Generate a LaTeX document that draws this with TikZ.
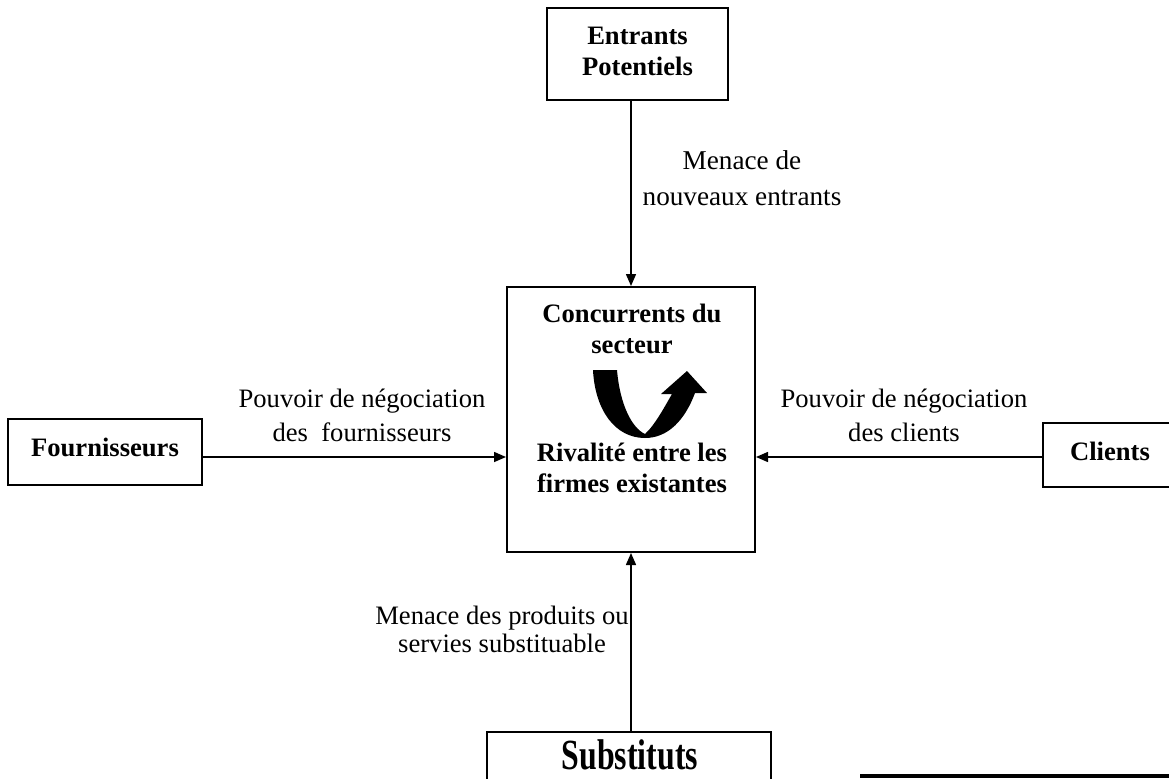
\documentclass[tikz,border=0pt]{standalone}
\usepackage{fontspec}
\setmainfont{Liberation Serif}
\usetikzlibrary{arrows.meta}
\begin{document}
\begin{tikzpicture}[x=0.5pt,y=-0.5pt,
  box/.style={draw, line width=1pt, inner sep=0pt},
  lbl/.style={align=center, font=\fontsize{13.3}{17}\selectfont, inner sep=0pt},
  blbl/.style={align=center, font=\fontsize{13.3}{15.5}\selectfont\bfseries, inner sep=0pt},
  arr/.style={line width=0.75pt, -{Triangle[length=6pt,width=5pt]}}]
\useasboundingbox (0,0) rectangle (1169,778);
\clip (0,0) rectangle (1169,778);

% the five forces boxes
\node[box, minimum width=90.5pt, minimum height=46pt] (ent) at (637.5,54) {};
\node[blbl] (entt) at (637.5,51) {Entrants\\Potentiels};

\node[box, minimum width=124pt, minimum height=132.5pt] (conc) at (631,419.5) {};
\node[blbl] (conct) at (632,329) {Concurrents du\\secteur};
\node[blbl] (rivt) at (632,468) {Rivalité entre les\\firmes existantes};

\node[box, minimum width=97pt, minimum height=33pt] (four) at (105,452) {};
\node[blbl] (fourt) at (105,447) {Fournisseurs};

\node[box, minimum width=67.5pt, minimum height=32pt] (cli) at (1110.5,455) {};
\node[blbl] (clit) at (1110,451) {Clients};

\node[box, minimum width=142pt, minimum height=30pt] (sub) at (629,762) {};
\node[inner sep=0pt] (subt) at (630,755)
  {\scalebox{0.74}[1]{\fontsize{21.5}{23}\selectfont\bfseries Substituts}};

% rivalry U-turn arrow
\fill (593,370) -- (617,370)
  .. controls (620,405) and (632,428) .. (645,434)
  .. controls (655,425) and (665,406) .. (672,394)
  -- (661,394) -- (687,371) -- (707,393) -- (695,393)
  .. controls (685,420) and (668,438) .. (645,438)
  .. controls (615,438) and (595,410) .. (593,370) -- cycle;

% forces acting on the industry
\coordinate (hl) at (0,457);
\draw[arr] (conc.north |- ent.south) -- (conc.north);
\draw[arr] (four.east |- hl) -- (conc.west |- hl);
\draw[arr] (cli.west |- hl) -- (conc.east |- hl);
\draw[arr] (conc.south |- sub.north) -- (conc.south);

% force labels
\node[lbl, font=\fontsize{13.6}{18}\selectfont] (l1) at (742,178) {Menace de\\nouveaux entrants};
\node[lbl] (l2) at (362,415) {Pouvoir de négociation\\des\ \ fournisseurs};
\node[lbl] (l3) at (904,415) {Pouvoir de négociation\\des clients};
\node[lbl, font=\fontsize{13.3}{14}\selectfont] (l4) at (502,629) {Menace des produits ou\\servies substituable};

% footnote rule
\draw[line width=1.6pt] (860,776) -- (1169,776);
\end{tikzpicture}
\end{document}
